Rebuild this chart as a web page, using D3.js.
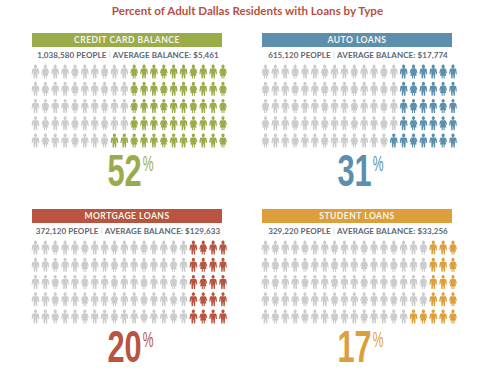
<!DOCTYPE html>
<html>

<head>
    <title>Dallas loans</title>
    <style>
        * {
            margin: 0;
            padding: 0;
        }

        body {
            background-color: #fff;
        }

        svg {
            display: block;
            font-family: Lato, "Noto Sans", sans-serif;
        }
    </style>
    <script src="https://cdn.jsdelivr.net/npm/d3@7/dist/d3.min.js" type="text/javascript"></script>
</head>

<body>
    <div id="root"></div>
    <script>
        var titleText = "Percent of Adult Dallas Residents with Loans by Type";
        var categories = ["CREDIT CARD BALANCE", "AUTO LOANS", "MORTGAGE LOANS", "STUDENT LOANS"];
        var people = ["1,038,580", "615,120", "372,120", "329,220"];
        var balances = ["$5,461", "$17,774", "$129,633", "$33,256"];
        var percents = [52, 31, 20, 17];

        var colors = ["#9aab4a", "#5b8fad", "#b85440", "#dc9f3c"];
        var grey = "#cbcccd";
        var width = 480;
        var height = 373;
        var cols = d3.range(20);
        var rows = d3.range(5);

        // two figures, drawn around 0,0 in a 8x14 box
        var man = "M0,-7a1.9,1.9 0 1 1 -.01,0zM-2.4,-3h4.8q1.4,0 1.6,1.4l.6,4.2h-1.3l-.9,-3.2v1.6l-.3,6h-1.5l-.4,-4h-.4l-.4,4h-1.5l-.3,-6v-1.6l-.9,3.2h-1.3l.6,-4.2q.2,-1.4 1.6,-1.4z";
        var woman = "M0,-7a1.9,1.9 0 1 1 -.01,0zM-2,-3h4q1.3,0 1.7,1.4l1,3.2h-1.3l-1,-2.4l1.3,5h-1.9v2.8h-1.3v-2.8h-1v2.8h-1.3v-2.8h-1.9l1.3,-5l-1,2.4h-1.3l1,-3.2q.4,-1.4 1.7,-1.4z";

        var svg = d3.select("#root")
            .append("svg")
            .attr("width", width)
            .attr("height", height);

        svg.append("text")
            .attr("x", 247.5)
            .attr("y", 15)
            .attr("text-anchor", "middle")
            .attr("font-size", 11.6)
            .attr("font-weight", 700)
            .attr("fill", "#b9513f")
            .text(titleText);

        var panelX = d3.scaleOrdinal().domain(categories).range([32, 262, 32, 262]);
        var panelY = d3.scaleOrdinal().domain(categories).range([33, 33, 209, 209]);
        var x = d3.scalePoint().domain(cols).range([3.5, 191]);
        var y = d3.scalePoint().domain(rows).range([38.6, 107.4]);

        categories.forEach(function(name, i) {
            var g = svg.append("g")
                .attr("transform", "translate(" + panelX(name) + "," + panelY(name) + ")");

            g.append("rect")
                .attr("width", 190)
                .attr("height", 14)
                .attr("fill", colors[i]);

            g.append("text")
                .attr("x", 95)
                .attr("y", 10.2)
                .attr("text-anchor", "middle")
                .attr("font-size", 8.6)
                .attr("font-weight", 700)
                .attr("letter-spacing", 0.45)
                .attr("fill", "#f4f4ea")
                .text(name);

            var sub = g.append("text")
                .attr("x", 96)
                .attr("y", 25.3)
                .attr("text-anchor", "middle")
                .attr("font-size", 8)
                .attr("font-weight", 700)
                .attr("letter-spacing", 0.1)
                .attr("fill", "#5d6670");
            sub.append("tspan").text(people[i] + " PEOPLE ");
            sub.append("tspan").attr("fill", "#c9cdd2").attr("font-weight", 400).text("| ");
            sub.append("tspan").text("AVERAGE BALANCE: " + balances[i]);

            // every row gets the same share, the last row takes what is left over
            var perRow = Math.floor(percents[i] / rows.length);
            var lastRow = percents[i] - perRow * (rows.length - 1);
            var cells = d3.cross(rows, cols, function(r, c) {
                return { r: r, c: c };
            });

            g.selectAll("path.person")
                .data(cells)
                .enter()
                .append("path")
                .attr("class", "person")
                .attr("transform", function(d) {
                    return "translate(" + x(d.c) + "," + y(d.r) + ") scale(0.85,1)";
                })
                .attr("d", function(d) {
                    return (d.c + d.r * 3 + i) % 3 == 1 ? woman : man;
                })
                .attr("fill", function(d) {
                    var n = d.r == rows.length - 1 ? lastRow : perRow;
                    return d.c >= cols.length - n ? colors[i] : grey;
                });

            // big number and its thin % sign, squeezed to look condensed
            var numScale = 0.7;
            var signScale = 0.55;
            var narrow = "'Liberation Sans Narrow', 'Liberation Sans', sans-serif";

            var num = g.append("text")
                .attr("font-family", narrow)
                .attr("font-size", 44)
                .attr("font-weight", 700)
                .attr("fill", colors[i])
                .text(percents[i]);

            var sign = g.append("text")
                .attr("font-family", narrow)
                .attr("font-size", 22)
                .attr("fill", colors[i])
                .text("%");

            // centre the pair under the grid
            var numW = num.node().getComputedTextLength() * numScale;
            var signW = sign.node().getComputedTextLength() * signScale;
            var left = 98.5 - (numW + 1 + signW) / 2;

            num.attr("transform", "translate(" + left + ",153) scale(" + numScale + ",1)");
            sign.attr("transform", "translate(" + (left + numW + 1) + ",138) scale(" + signScale + ",1)");
        });
    </script>
</body>

</html>
